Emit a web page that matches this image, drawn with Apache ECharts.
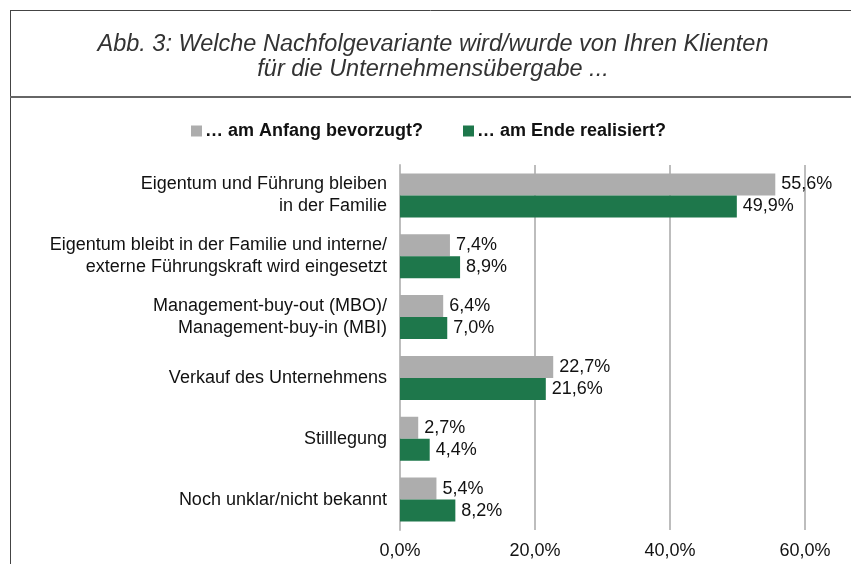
<!DOCTYPE html>
<html>
<head>
<meta charset="utf-8">
<script src="https://cdn.jsdelivr.net/npm/echarts@6/dist/echarts.min.js"></script>
<style>
  html, body { margin: 0; padding: 0; background: #fff; }
  #chart { width: 851px; height: 564px; }
</style>
</head>
<body>
<div id="chart"></div>
<script>
// Kategorien (von oben nach unten)
var categories = [
  "Eigentum und Führung bleiben\nin der Familie",
  "Eigentum bleibt in der Familie und interne/\nexterne Führungskraft wird eingesetzt",
  "Management-buy-out (MBO)/\nManagement-buy-in (MBI)",
  "Verkauf des Unternehmens",
  "Stilllegung",
  "Noch unklar/nicht bekannt"
];
var seriesNames = ["… am Anfang bevorzugt?", "… am Ende realisiert?"];
var anfang = [55.6, 7.4, 6.4, 22.7, 2.7, 5.4];
var ende = [49.9, 8.9, 7.0, 21.6, 4.4, 8.2];

function pct(v) {
  return v.toFixed(1).replace(".", ",") + "%";
}

var chart = echarts.init(document.getElementById("chart"));
var font = "Liberation Sans, Arial, sans-serif";

var option = {
  animation: false,
  textStyle: { fontFamily: font },
  title: {
    text: "Abb. 3: Welche Nachfolgevariante wird/wurde von Ihren Klienten\nfür die Unternehmensübergabe ...",
    left: 428,
    textAlign: "center",
    top: 27,
    textStyle: {
      fontFamily: font,
      fontStyle: "italic",
      fontWeight: "normal",
      fontSize: 23.5,
      lineHeight: 25,
      color: "#333"
    }
  },
  graphic: [
    { type: "line", shape: { x1: 10, y1: 10.5, x2: 851, y2: 10.5 }, style: { stroke: "#444", lineWidth: 1 } },
    { type: "line", shape: { x1: 10.5, y1: 10, x2: 10.5, y2: 564 }, style: { stroke: "#444", lineWidth: 1 } },
    { type: "line", shape: { x1: 10, y1: 97, x2: 851, y2: 97 }, style: { stroke: "#666", lineWidth: 2 } }
  ],
  legend: {
    top: 117,
    left: 186,
    itemWidth: 11,
    itemHeight: 11,
    itemGap: 40,
    icon: "rect",
    data: seriesNames,
    textStyle: { fontFamily: font, fontWeight: "bold", fontSize: 18, color: "#111", padding: [0, 0, 0, -2] }
  },
  grid: { left: 400, right: 46, top: 165, bottom: 34, containLabel: false },
  xAxis: {
    type: "value",
    min: 0,
    max: 60,
    interval: 20,
    axisLine: { show: false },
    axisTick: { show: false },
    splitLine: { show: true, lineStyle: { color: "#bdbdbd", width: 2 } },
    axisLabel: {
      formatter: pct,
      fontSize: 18,
      color: "#111",
      margin: 12,
      fontFamily: font
    }
  },
  yAxis: {
    type: "category",
    inverse: true,
    data: categories,
    axisLine: { show: true, lineStyle: { color: "#bdbdbd", width: 2 } },
    axisTick: { show: false },
    axisLabel: {
      fontSize: 18,
      lineHeight: 22,
      color: "#111",
      margin: 13,
      align: "right",
      fontFamily: font
    }
  },
  series: [
    {
      name: seriesNames[0],
      type: "bar",
      data: anfang,
      barWidth: 22,
      barGap: "0%",
      itemStyle: { color: "#adadad" },
      label: { show: true, position: "right", formatter: function (p) { return pct(p.value); }, fontSize: 18, color: "#111", distance: 6, fontFamily: font }
    },
    {
      name: seriesNames[1],
      type: "bar",
      data: ende,
      barWidth: 22,
      barGap: "0%",
      itemStyle: { color: "#1e774b" },
      label: { show: true, position: "right", formatter: function (p) { return pct(p.value); }, fontSize: 18, color: "#111", distance: 6, fontFamily: font }
    }
  ]
};
chart.setOption(option);
</script>
</body>
</html>
